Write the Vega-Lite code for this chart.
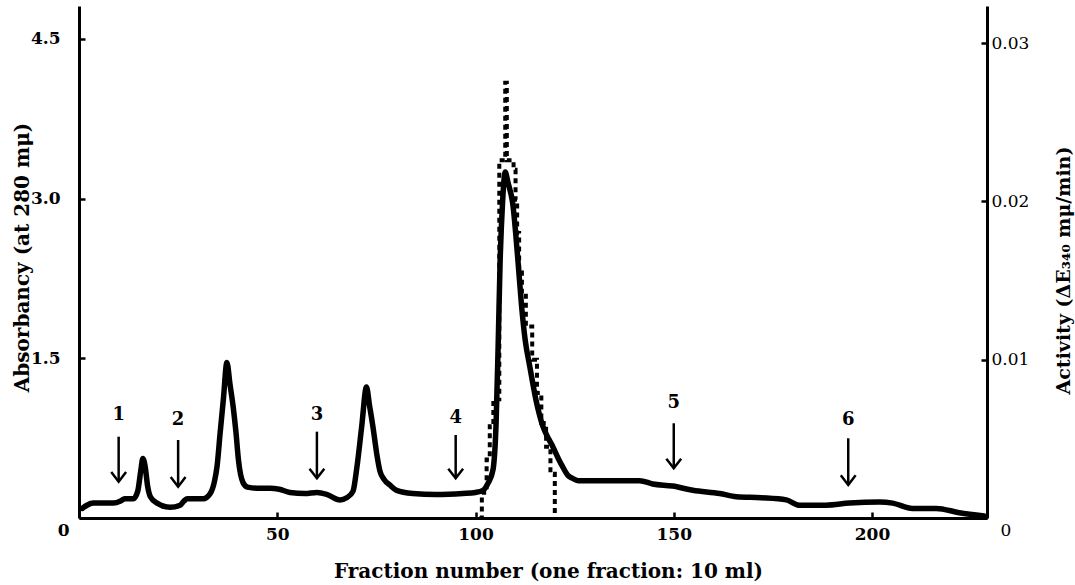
{
  "$schema": "https://vega.github.io/schema/vega-lite/v6.json",
  "width": 908,
  "height": 512,
  "autosize": {"type": "none"},
  "padding": {"left": 79, "top": 6, "right": 88, "bottom": 67},
  "background": "white",
  "config": {
    "view": {"stroke": null},
    "font": "DejaVu Serif",
    "axis": {
      "grid": false,
      "domainColor": "black",
      "domainWidth": 3,
      "tickColor": "black",
      "tickWidth": 2.5,
      "tickSize": -6,
      "labelColor": "black",
      "labelFont": "DejaVu Serif",
      "labelFontSize": 17,
      "labelFontWeight": "bold",
      "titleColor": "black",
      "titleFont": "DejaVu Serif",
      "titleFontSize": 20,
      "titleFontWeight": "bold"
    }
  },
  "datasets": {
    "absorbance": [
      {"fraction": 0.8, "abs": 0.09}, {"fraction": 2, "abs": 0.12}, {"fraction": 3.6, "abs": 0.14},
      {"fraction": 8.7, "abs": 0.14}, {"fraction": 10.5, "abs": 0.16}, {"fraction": 11.5, "abs": 0.18},
      {"fraction": 13.7, "abs": 0.18}, {"fraction": 14.8, "abs": 0.25}, {"fraction": 15.6, "abs": 0.45},
      {"fraction": 16.1, "abs": 0.56}, {"fraction": 16.7, "abs": 0.48}, {"fraction": 17.3, "abs": 0.3},
      {"fraction": 18.0, "abs": 0.2}, {"fraction": 19.7, "abs": 0.14}, {"fraction": 23.0, "abs": 0.1},
      {"fraction": 25.5, "abs": 0.12}, {"fraction": 26.5, "abs": 0.16}, {"fraction": 27.3, "abs": 0.18},
      {"fraction": 31.3, "abs": 0.18}, {"fraction": 33.1, "abs": 0.23}, {"fraction": 34.2, "abs": 0.35},
      {"fraction": 34.8, "abs": 0.48}, {"fraction": 35.6, "abs": 0.8}, {"fraction": 36.4, "abs": 1.11},
      {"fraction": 37.3, "abs": 1.46}, {"fraction": 38.1, "abs": 1.25}, {"fraction": 38.9, "abs": 1.04},
      {"fraction": 39.6, "abs": 0.8}, {"fraction": 40.2, "abs": 0.55}, {"fraction": 41.4, "abs": 0.33},
      {"fraction": 42.5, "abs": 0.29}, {"fraction": 44.9, "abs": 0.28}, {"fraction": 48.2, "abs": 0.28},
      {"fraction": 50.5, "abs": 0.27}, {"fraction": 53.2, "abs": 0.24}, {"fraction": 57, "abs": 0.23},
      {"fraction": 60.0, "abs": 0.24}, {"fraction": 62.6, "abs": 0.22}, {"fraction": 65.8, "abs": 0.17},
      {"fraction": 67.5, "abs": 0.19}, {"fraction": 69.1, "abs": 0.25}, {"fraction": 70.1, "abs": 0.48},
      {"fraction": 71.3, "abs": 0.86}, {"fraction": 72.5, "abs": 1.23}, {"fraction": 73.3, "abs": 1.05},
      {"fraction": 74.2, "abs": 0.84}, {"fraction": 75.1, "abs": 0.6}, {"fraction": 75.9, "abs": 0.44},
      {"fraction": 77, "abs": 0.36}, {"fraction": 78.4, "abs": 0.31}, {"fraction": 80.1, "abs": 0.26},
      {"fraction": 84.2, "abs": 0.23}, {"fraction": 90, "abs": 0.22}, {"fraction": 96.8, "abs": 0.23},
      {"fraction": 100, "abs": 0.24}, {"fraction": 101.9, "abs": 0.26}, {"fraction": 103.2, "abs": 0.33},
      {"fraction": 104.4, "abs": 0.45}, {"fraction": 105.2, "abs": 0.9}, {"fraction": 105.7, "abs": 1.6},
      {"fraction": 106.2, "abs": 2.4}, {"fraction": 106.8, "abs": 2.95}, {"fraction": 107.5, "abs": 3.25},
      {"fraction": 108.2, "abs": 3.15}, {"fraction": 109.4, "abs": 2.95}, {"fraction": 110.7, "abs": 2.42},
      {"fraction": 111.6, "abs": 2.0}, {"fraction": 112.5, "abs": 1.68}, {"fraction": 113.7, "abs": 1.42},
      {"fraction": 115.3, "abs": 1.1}, {"fraction": 117.0, "abs": 0.86}, {"fraction": 118.5, "abs": 0.74},
      {"fraction": 119.5, "abs": 0.67}, {"fraction": 121, "abs": 0.55}, {"fraction": 122.0, "abs": 0.48},
      {"fraction": 123.3, "abs": 0.4}, {"fraction": 124.6, "abs": 0.37}, {"fraction": 126, "abs": 0.35},
      {"fraction": 129.6, "abs": 0.35}, {"fraction": 141.4, "abs": 0.35}, {"fraction": 144.7, "abs": 0.32},
      {"fraction": 149.7, "abs": 0.3}, {"fraction": 154.8, "abs": 0.26}, {"fraction": 161.6, "abs": 0.23},
      {"fraction": 165.8, "abs": 0.2}, {"fraction": 172, "abs": 0.19}, {"fraction": 178.4, "abs": 0.17},
      {"fraction": 181.7, "abs": 0.12}, {"fraction": 188.4, "abs": 0.12}, {"fraction": 194.3, "abs": 0.14},
      {"fraction": 201.9, "abs": 0.15}, {"fraction": 205.2, "abs": 0.14}, {"fraction": 210.2, "abs": 0.09},
      {"fraction": 216.2, "abs": 0.09}, {"fraction": 222.0, "abs": 0.05}, {"fraction": 228.3, "abs": 0.02}
    ],
    "activity": [
      {"fraction": 101.0, "act": 0}, {"fraction": 101.6, "act": 0.0016}, {"fraction": 102.8, "act": 0.0037},
      {"fraction": 103.6, "act": 0.0058}, {"fraction": 104.5, "act": 0.0075}, {"fraction": 106.0, "act": 0.0226},
      {"fraction": 107.5, "act": 0.0275}, {"fraction": 107.9, "act": 0.0226}, {"fraction": 109.6, "act": 0.022},
      {"fraction": 110.1, "act": 0.0201}, {"fraction": 110.5, "act": 0.018}, {"fraction": 111.0, "act": 0.0155},
      {"fraction": 111.7, "act": 0.0142}, {"fraction": 112.7, "act": 0.0121}, {"fraction": 114.3, "act": 0.01},
      {"fraction": 115.5, "act": 0.0079}, {"fraction": 116.6, "act": 0.006}, {"fraction": 117.8, "act": 0.0045},
      {"fraction": 118.9, "act": 0.0028}, {"fraction": 120.0, "act": 0}
    ],
    "arrows": [
      {"fraction": 10, "top": 0.764, "tip": 0.341, "labelY": 0.968, "label": "1"},
      {"fraction": 25, "top": 0.733, "tip": 0.294, "labelY": 0.921, "label": "2"},
      {"fraction": 60, "top": 0.811, "tip": 0.373, "labelY": 0.968, "label": "3"},
      {"fraction": 95, "top": 0.78, "tip": 0.373, "labelY": 0.94, "label": "4"},
      {"fraction": 150, "top": 0.89, "tip": 0.467, "labelY": 1.081, "label": "5"},
      {"fraction": 194, "top": 0.749, "tip": 0.31, "labelY": 0.921, "label": "6"}
    ]
  },
  "encoding": {
    "x": {
      "field": "fraction",
      "type": "quantitative",
      "scale": {"domain": [0, 229], "nice": false, "zero": false},
      "axis": {
        "title": "Fraction number  (one fraction: 10 ml)",
        "values": [50, 100, 150, 200],
        "format": "d",
        "labelPadding": 14,
        "titleX": 469,
        "titleY": 53,
        "titleBaseline": "middle",
        "titleAlign": "center"
      }
    }
  },
  "layer": [
    {
      "data": {"name": "absorbance"},
      "mark": {"type": "line", "color": "black", "strokeWidth": 5.5, "interpolate": "monotone", "strokeCap": "round", "strokeJoin": "round"},
      "encoding": {
        "y": {
          "field": "abs",
          "type": "quantitative",
          "scale": {"domain": [0, 4.81], "nice": false},
          "axis": {
            "orient": "left",
            "title": "Absorbancy  (at 280 mμ)",
            "values": [0, 1.5, 3, 4.5],
            "labelExpr": "datum.value == 0 ? '0' : format(datum.value, '.1f')",
            "labelOffset": {"condition": {"test": "datum.value == 0", "value": 12}, "value": 0},
            "labelPadding": {"condition": {"test": "datum.value == 0", "value": 16}, "value": 25},
            "titleX": -57,
            "titleY": 251,
            "titleAngle": 270,
            "titleBaseline": "middle",
            "titleAlign": "center"
          }
        }
      }
    },
    {
      "data": {"name": "arrows"},
      "mark": {"type": "rule", "color": "black", "strokeWidth": 2.5},
      "encoding": {
        "y": {"field": "top", "type": "quantitative", "scale": {"domain": [0, 4.81], "nice": false}, "axis": null},
        "y2": {"field": "tip"}
      }
    },
    {
      "data": {"name": "arrows"},
      "mark": {"type": "point", "shape": "M-1,-1.3L0,0L1,-1.3", "filled": false, "color": "black", "strokeWidth": 2.5, "size": 220, "opacity": 1},
      "encoding": {
        "y": {"field": "tip", "type": "quantitative", "scale": {"domain": [0, 4.81], "nice": false}, "axis": null}
      }
    },
    {
      "data": {"name": "arrows"},
      "mark": {"type": "text", "color": "black", "font": "DejaVu Serif", "fontSize": 18, "fontWeight": "bold", "baseline": "middle", "align": "center"},
      "encoding": {
        "y": {"field": "labelY", "type": "quantitative", "scale": {"domain": [0, 4.81], "nice": false}, "axis": null},
        "text": {"field": "label"}
      }
    },
    {
      "data": {"name": "activity"},
      "mark": {"type": "line", "color": "black", "strokeWidth": 4, "interpolate": "step-after", "strokeDash": [5, 4]},
      "encoding": {
        "y": {
          "field": "act",
          "type": "quantitative",
          "scale": {"domain": [0, 0.03234], "nice": false},
          "axis": {
            "orient": "right",
            "title": "Activity  (ΔE₃₄₀ mμ/min)",
            "values": [0, 0.01, 0.02, 0.03],
            "labelExpr": "datum.value == 0 ? '0' : format(datum.value, '.2f')",
            "labelOffset": {"condition": {"test": "datum.value == 0", "value": 12}, "value": 0},
            "labelFontWeight": "normal",
            "labelPadding": {"condition": {"test": "datum.value == 0", "value": 19}, "value": 10},
            "titleFontSize": 19,
            "titleX": 76,
            "titleY": 264,
            "titleAngle": 270,
            "titleBaseline": "middle",
            "titleAlign": "center"
          }
        }
      }
    }
  ],
  "resolve": {"scale": {"y": "independent"}}
}
